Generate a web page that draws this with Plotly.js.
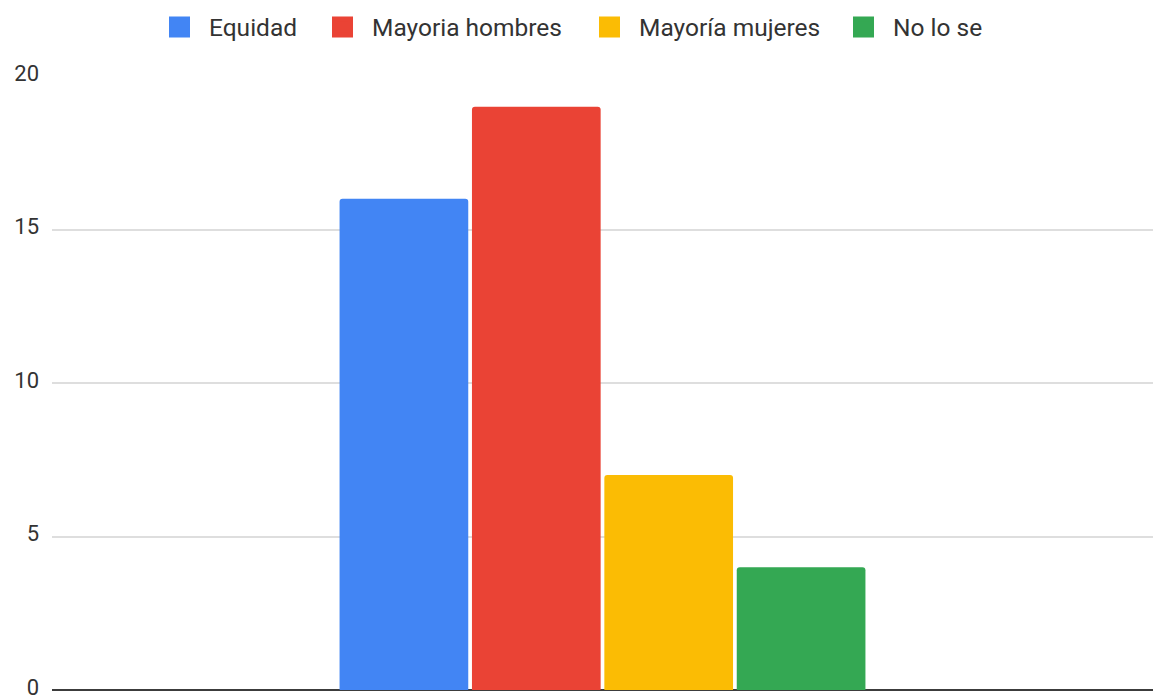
<!DOCTYPE html>
<html>
<head>
<meta charset="utf-8">
<script src="https://cdn.plot.ly/plotly-3.0.1.min.js"></script>
<style>
  html, body { margin: 0; padding: 0; background: #fff; }
  #chart { width: 1154px; height: 697px; }
</style>
</head>
<body>
<div id="chart"></div>
<script>
// Data
const categories = [""];
const seriesNames = ["Equidad", "Mayoria hombres", "Mayoría mujeres", "No lo se"];
const seriesValues = [16, 19, 7, 4];
const seriesColors = ["#4285F4", "#EA4335", "#FBBC04", "#34A853"];
const yTickValues = [0, 5, 10, 15, 20];
const yTickLabels = ["0", "5", "10", "15", "20"];

const legendTextX = [209, 372, 639, 893];
const legendIds = ["legend", "legend2", "legend3", "legend4"];

const W = 1154, H = 697;
const M = { l: 52, r: 1, t: 76, b: 7 };
const plotW = W - M.l - M.r;
const plotH = H - M.t - M.b;
const ITEM_W = 49;

const traces = [];
seriesNames.forEach(function (name, i) {
  traces.push({
    type: "bar",
    name: name,
    x: categories,
    y: [seriesValues[i]],
    marker: { color: seriesColors[i] },
    legendgroup: name,
    showlegend: false,
    hoverinfo: "name+y"
  });
});
// legend entries (square swatches), one legend per entry for exact placement
seriesNames.forEach(function (name, i) {
  traces.push({
    type: "scatter",
    mode: "markers",
    name: name,
    x: [categories[0]],
    y: [null],
    legendgroup: name,
    legend: legendIds[i],
    marker: { symbol: "square", size: 16, color: seriesColors[i],
              line: { color: seriesColors[i], width: 5 } },
    hoverinfo: "skip"
  });
});

const layout = {
  width: W,
  height: H,
  margin: { l: M.l, r: M.r, t: M.t, b: M.b, pad: 0, autoexpand: false },
  paper_bgcolor: "#ffffff",
  plot_bgcolor: "#ffffff",
  font: { family: "Roboto, Arial, sans-serif", size: 22, color: "#333333" },
  barmode: "group",
  bargap: 0.519,
  bargroupgap: 0.028,
  barcornerradius: 3,
  showlegend: true,
  xaxis: {
    type: "category",
    showticklabels: false,
    showgrid: false,
    zeroline: false,
    showline: false,
    ticks: "",
    fixedrange: true
  },
  yaxis: {
    range: [0, 20],
    tickmode: "array",
    tickvals: yTickValues,
    ticktext: yTickLabels,
    showgrid: true,
    gridcolor: "#dedede",
    gridwidth: 1.5,
    zeroline: true,
    zerolinecolor: "#3c3c3c",
    zerolinewidth: 1.8,
    showline: false,
    ticks: "",
    ticklabelstandoff: 12,
    ticklabelshift: -3,
    ticklabeloverflow: "allow",
    tickfont: { family: "Roboto, Arial, sans-serif", size: 22, color: "#333333" },
    fixedrange: true
  }
};

legendIds.forEach(function (id, i) {
  layout[id] = {
    orientation: "h",
    xanchor: "left",
    x: (legendTextX[i] - 10 - ITEM_W - M.l) / plotW,
    y: 1 + (M.t - 27) / plotH,
    yanchor: "middle",
    borderwidth: 0,
    bgcolor: "rgba(0,0,0,0)",
    itemwidth: ITEM_W,
    itemsizing: "trace",
    font: { family: "Roboto, Arial, sans-serif", size: 24.5, color: "#333333" }
  };
});

Plotly.newPlot("chart", traces, layout, { displayModeBar: false, responsive: false });
</script>
</body>
</html>
